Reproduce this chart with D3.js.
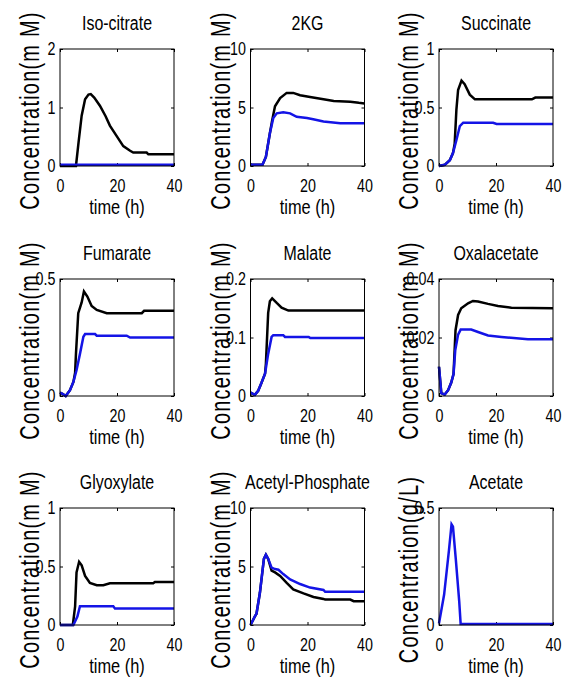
<!DOCTYPE html>
<html>
<head>
<meta charset="utf-8">
<script src="https://cdn.jsdelivr.net/npm/d3@7"></script>
<style>
  body { margin: 0; background: #fff; }
  text { font-family: "Liberation Sans", Arial, sans-serif; fill: #000; }
</style>
</head>
<body>
<div id="chart"></div>
<script>
// time points are in hours: [t, value]
const isoCitrateBlack = [[0,0],[5.6,0],[6.5,0.4],[7.6,0.86],[8.8,1.14],[10,1.22],[10.8,1.23],[12,1.17],[14,1.03],[16,0.85],[17.5,0.69],[19.9,0.51],[22.2,0.34],[24.6,0.26],[25.7,0.23],[30.4,0.23],[31,0.2],[40,0.2]];
const isoCitrateBlue = [[0,0.02],[40,0.02]];

const kgBlack = [[0,0.1],[4.2,0.1],[5.4,0.78],[6.8,2.8],[7.6,3.9],[8.6,5.1],[10.4,5.8],[12.7,6.25],[15,6.25],[17.4,6.05],[20.9,5.9],[25.6,5.7],[29.2,5.55],[35,5.5],[38,5.4],[40,5.35]];
const kgBlue = [[0,0.1],[4.2,0.1],[5.4,0.78],[6.8,2.8],[8,4.1],[9.2,4.5],[11.5,4.6],[13.9,4.5],[16.2,4.2],[19.8,4.1],[22,4.0],[25.6,3.8],[31.5,3.66],[40,3.66]];

const succinateBlack = [[0,0],[2,0.01],[3.8,0.05],[4.9,0.11],[5.5,0.19],[6.1,0.48],[6.7,0.65],[7.9,0.73],[9,0.7],[10.8,0.61],[12.6,0.57],[32.6,0.57],[33.8,0.585],[40,0.585]];
const succinateBlue = [[0,0],[2,0.01],[3.8,0.05],[4.9,0.11],[6.1,0.22],[7.3,0.34],[8.5,0.37],[19,0.37],[20.2,0.36],[40,0.36]];

const fumarateBlack = [[0,0.015],[1,0.008],[2,0],[3.5,0.025],[4.7,0.06],[5.3,0.1],[5.6,0.18],[6.4,0.354],[7.6,0.4],[8.4,0.447],[9.6,0.425],[11.1,0.385],[12.9,0.368],[16.4,0.354],[28.7,0.354],[29.5,0.364],[40,0.364]];
const fumarateBlue = [[0,0.015],[1,0.008],[2,0],[3.5,0.025],[4.7,0.06],[5.8,0.11],[7,0.18],[8.2,0.253],[8.8,0.265],[12.3,0.265],[12.9,0.258],[23.4,0.258],[24.6,0.25],[40,0.25]];

const malateBlack = [[0,0.006],[1.5,0.002],[2.7,0.009],[3.9,0.023],[5.1,0.038],[5.4,0.055],[6.2,0.142],[6.8,0.162],[7.6,0.167],[9.2,0.159],[10.9,0.151],[13.3,0.146],[40,0.146]];
const malateBlue = [[0,0.006],[1.5,0.002],[2.7,0.009],[3.9,0.023],[5.1,0.038],[6.2,0.072],[7.4,0.101],[8,0.104],[11.5,0.104],[12.1,0.101],[20.4,0.101],[21,0.099],[40,0.099]];

const oxalBlack = [[0,0.01],[0.8,0.001],[2,0.0005],[3.2,0.002],[4.3,0.0046],[5.1,0.0075],[5.8,0.0225],[6.7,0.0277],[7.8,0.03],[10.2,0.0317],[11.9,0.0325],[13.7,0.0323],[17.2,0.0315],[20.7,0.0308],[25.4,0.0302],[40,0.03]];
const oxalBlue = [[0,0.01],[0.8,0.001],[2,0.0005],[3.2,0.002],[4.3,0.0046],[5.1,0.0075],[5.7,0.0156],[6.7,0.021],[7.6,0.0227],[11.3,0.0227],[13.7,0.0219],[17.2,0.0207],[21.9,0.0202],[31.2,0.0194],[40,0.0194]];

const glyoxBlack = [[0,0],[4.5,0],[5.3,0.16],[5.8,0.45],[6.7,0.54],[7.6,0.51],[8.8,0.42],[10.5,0.36],[12.9,0.34],[15.2,0.34],[17.5,0.357],[32.7,0.357],[33.3,0.368],[40,0.368]];
const glyoxBlue = [[0,0],[4.7,0],[6.1,0.072],[7,0.16],[18.7,0.16],[19.3,0.14],[40,0.14]];

const acpBlack = [[0,0],[1.5,0.72],[2.1,0.96],[3.3,2.75],[4.7,5.65],[5.4,6.0],[6.2,5.65],[7.4,4.64],[8.6,4.5],[10.4,4.2],[12.7,3.6],[15,3.04],[18.6,2.7],[22.1,2.4],[25.6,2.23],[26.2,2.17],[35,2.17],[36.2,2.03],[40,2.03]];
const acpBlue = [[0,0],[1.5,0.72],[2.1,0.96],[3.3,2.75],[4.7,5.65],[5.4,6.0],[6.2,5.65],[7.4,4.9],[8.6,4.78],[9.8,4.72],[11.5,4.35],[13.9,3.9],[17.4,3.5],[20.9,3.2],[25.6,3.0],[26.2,2.84],[40,2.84]];

const acetateBlue = [[0,0.007],[1.8,0.13],[3.5,0.32],[4.4,0.43],[4.9,0.42],[5.9,0.28],[7.1,0.1],[7.6,0.004],[40,0.004]];

const titles = ["Iso-citrate", "2KG", "Succinate", "Fumarate", "Malate", "Oxalacetate", "Glyoxylate", "Acetyl-Phosphate", "Acetate"];
const yMax = [2, 10, 1, 0.5, 0.2, 0.04, 1, 10, 0.5];
const yTicks = [[0,1,2], [0,5,10], [0,0.5,1], [0,0.5], [0,0.1,0.2], [0,0.02,0.04], [0,0.5,1], [0,5,10], [0,0.5]];
const yLabels = ["Concentration(m M)", "Concentration(m M)", "Concentration(m M)", "Concentration(m M)", "Concentration(m M)", "Concentration(m M)", "Concentration(m M)", "Concentration(m M)", "Concentration(g/L)"];
const blackSeries = [isoCitrateBlack, kgBlack, succinateBlack, fumarateBlack, malateBlack, oxalBlack, glyoxBlack, acpBlack, null];
const blueSeries = [isoCitrateBlue, kgBlue, succinateBlue, fumarateBlue, malateBlue, oxalBlue, glyoxBlue, acpBlue, acetateBlue];
const xTicks = [0, 20, 40];

const width = 564, height = 688;
const colLeft = [60, 250.5, 439];
const rowTop = [49, 279, 508];
const pw = 114, ph = 117;
const narrow = "scale(0.84,1.05)";  // squeeze Liberation Sans to a narrow face

const svg = d3.select("#chart").append("svg")
  .attr("width", width)
  .attr("height", height);

titles.forEach(function(title, i) {
  const x0 = colLeft[i % 3], y0 = rowTop[Math.floor(i / 3)];
  const g = svg.append("g").attr("transform", `translate(${x0},${y0})`);

  const x = d3.scaleLinear().domain([0, 40]).range([0, pw]);
  const y = d3.scaleLinear().domain([0, yMax[i]]).range([ph, 0]);

  // inward ticks on all four sides (matlab box style)
  g.append("g").attr("transform", `translate(0,${ph})`)
    .call(d3.axisBottom(x).tickValues(xTicks).tickSizeInner(-3).tickSizeOuter(0).tickPadding(12.5))
    .call(a => a.select(".domain").remove())
    .call(a => a.selectAll("text").style("font-size", "17px").attr("transform", narrow));
  g.append("g")
    .call(d3.axisTop(x).tickValues(xTicks).tickSizeInner(-3).tickSizeOuter(0).tickFormat(""))
    .call(a => a.select(".domain").remove());
  g.append("g")
    .call(d3.axisLeft(y).tickValues(yTicks[i]).tickSizeInner(-3).tickSizeOuter(0).tickPadding(5.5).tickFormat(d3.format("")))
    .call(a => a.select(".domain").remove())
    .call(a => a.selectAll("text").style("font-size", "17px").attr("transform", narrow));
  g.append("g").attr("transform", `translate(${pw},0)`)
    .call(d3.axisRight(y).tickValues(yTicks[i]).tickSizeInner(-3).tickSizeOuter(0).tickFormat(""))
    .call(a => a.select(".domain").remove());

  const line = d3.line().x(d => x(d[0])).y(d => y(d[1]));

  if (blackSeries[i]) {
    g.append("path")
      .datum(blackSeries[i])
      .attr("d", line)
      .attr("fill", "none")
      .attr("stroke", "#000")
      .attr("stroke-width", 2.5);
  }
  g.append("path")
    .datum(blueSeries[i])
    .attr("d", line)
    .attr("fill", "none")
    .attr("stroke", "#1414e6")
    .attr("stroke-width", 2.5);

  g.append("rect")
    .attr("width", pw)
    .attr("height", ph)
    .attr("fill", "none")
    .attr("stroke", "#000")
    .attr("stroke-width", 1);

  // title
  g.append("text")
    .attr("transform", `translate(${pw / 2},-19) ${narrow}`)
    .attr("text-anchor", "middle")
    .style("font-size", "19px")
    .text(title);

  // x label
  g.append("text")
    .attr("transform", `translate(${pw / 2},${ph + 48}) ${narrow}`)
    .attr("text-anchor", "middle")
    .style("font-size", "19.5px")
    .text("time (h)");

  // y label, spaced out like the original
  g.append("text")
    .attr("transform", `translate(-21,${ph / 2 + 3}) rotate(-90) scale(0.83,1.12)`)
    .attr("text-anchor", "middle")
    .style("font-size", "24px")
    .style("letter-spacing", "1.5px")
    .text(yLabels[i]);
});
</script>
</body>
</html>
